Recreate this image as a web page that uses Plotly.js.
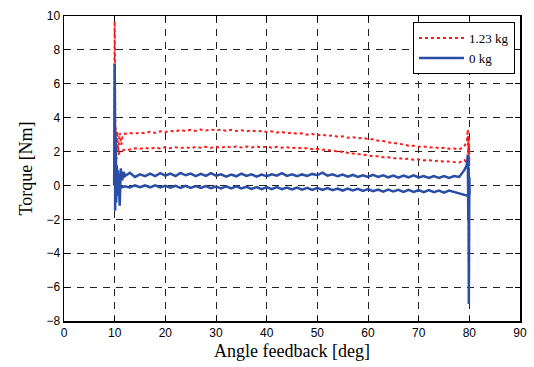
<!DOCTYPE html>
<html>
<head>
<meta charset="utf-8">
<script src="https://cdn.plot.ly/plotly-3.0.1.min.js"></script>
<style>html,body{margin:0;padding:0;background:#fff;}#chart{width:534px;height:367px;}</style>
</head>
<body>
<div id="chart"></div>
<script>
// 1.23 kg loop (upper branch forward, lower branch back)
var redX = [9.9,10.0,10.05,10.1,10.15,10.2,10.3,10.5,10.7,11.0,11.3,11.6,12,
13,14,15,16,17,18,19,20,21,22,23,24,25,26,27,28,29,30,31,32,33,34,35,36,37,38,39,40,41,42,43,44,45,46,47,48,49,50,51,52,53,54,55,56,57,58,59,60,61,62,63,64,65,66,67,68,69,70,71,72,73,74,75,76,77,78,79,
79.5,79.7,79.8,79.85,79.9,79.95,80.0,
79,78,77,76,75,74,73,72,71,70,69,68,67,66,65,64,63,62,61,60,59,58,57,56,55,54,53,52,51,50,49,48,47,46,45,44,43,42,41,40,39,38,37,36,35,34,33,32,31,30,29,28,27,26,25,24,23,22,21,20,19,18,17,16,15,14,13,12,11,10.5];
var redY = [1.0,9.7,8.0,4.0,1.5,3.4,1.8,3.2,2.0,3.1,2.4,3.0,3.05,
3.1,3.05,3.12,3.08,3.18,3.1,3.2,3.15,3.22,3.18,3.28,3.2,3.28,3.22,3.3,3.24,3.3,3.25,3.3,3.22,3.28,3.22,3.26,3.2,3.25,3.18,3.22,3.15,3.2,3.12,3.16,3.08,3.12,3.05,3.08,3.0,3.04,2.96,3.0,2.92,2.95,2.88,2.9,2.82,2.85,2.78,2.8,2.74,2.72,2.64,2.62,2.55,2.52,2.45,2.42,2.35,2.34,2.28,2.3,2.24,2.26,2.2,2.22,2.16,2.18,2.12,2.3,
2.6,3.3,1.5,2.9,-4.5,2.5,1.2,
1.5,1.35,1.38,1.42,1.4,1.46,1.44,1.5,1.48,1.54,1.52,1.58,1.56,1.62,1.6,1.66,1.66,1.72,1.72,1.78,1.8,1.86,1.88,1.94,1.96,2.02,2.04,2.1,2.1,2.16,2.14,2.2,2.18,2.24,2.2,2.26,2.22,2.28,2.22,2.3,2.24,2.3,2.24,2.3,2.24,2.3,2.24,2.3,2.22,2.28,2.22,2.28,2.22,2.28,2.2,2.26,2.2,2.26,2.2,2.26,2.18,2.24,2.16,2.22,2.16,2.2,2.12,2.1,2.0,1.6];

// 0 kg loop
var blueX = [9.9,10.0,10.05,10.1,10.15,10.2,10.25,10.3,10.4,10.5,10.6,10.8,11.0,11.2,11.5,11.8,
12,13,14,15,16,17,18,19,20,21,22,23,24,25,26,27,28,29,30,31,32,33,34,35,36,37,38,39,40,41,42,43,44,45,46,47,48,49,50,51,52,53,54,55,56,57,58,59,60,61,62,63,64,65,66,67,68,69,70,71,72,73,74,75,76,77,78,79,
79.5,79.7,79.8,79.85,79.9,79.95,80.0,80.05,
79.6,79,78,77,76,75,74,73,72,71,70,69,68,67,66,65,64,63,62,61,60,59,58,57,56,55,54,53,52,51,50,49,48,47,46,45,44,43,42,41,40,39,38,37,36,35,34,33,32,31,30,29,28,27,26,25,24,23,22,21,20,19,18,17,16,15,14,13,12,11,10.5];
var blueY = [0.0,7.2,5.0,-1.5,3.0,-1.2,1.8,-1.0,1.2,-0.6,0.9,0.2,-1.2,1.0,0.3,0.8,
0.55,0.75,0.5,0.65,0.55,0.7,0.55,0.72,0.58,0.7,0.56,0.74,0.6,0.7,0.55,0.68,0.56,0.72,0.58,0.66,0.52,0.64,0.54,0.7,0.56,0.66,0.52,0.64,0.55,0.66,0.58,0.72,0.56,0.66,0.55,0.65,0.56,0.68,0.6,0.76,0.58,0.66,0.54,0.64,0.52,0.62,0.5,0.6,0.5,0.62,0.5,0.6,0.48,0.58,0.46,0.58,0.48,0.6,0.47,0.56,0.45,0.56,0.45,0.55,0.45,0.55,0.5,0.9,
1.2,1.8,-2.0,1.0,-7.0,-4.0,0.5,-0.5,
-0.6,-0.55,-0.45,-0.4,-0.3,-0.42,-0.3,-0.4,-0.28,-0.4,-0.28,-0.38,-0.26,-0.38,-0.26,-0.36,-0.24,-0.36,-0.24,-0.34,-0.22,-0.32,-0.2,-0.3,-0.18,-0.3,-0.18,-0.28,-0.15,-0.26,-0.14,-0.26,-0.14,-0.25,-0.12,-0.24,-0.12,-0.22,-0.1,-0.22,-0.1,-0.22,-0.1,-0.2,-0.08,-0.18,-0.06,-0.18,-0.06,-0.18,-0.06,-0.16,-0.04,-0.15,-0.04,-0.14,-0.02,-0.14,-0.02,-0.13,-0.02,-0.12,0.0,-0.12,0.0,-0.1,0.0,-0.12,-0.05,-0.15,0.2];

var seriesNames = ['1.23 kg', '0 kg'];
var xTicks = [0,10,20,30,40,50,60,70,80,90];
var yTicks = [-8,-6,-4,-2,0,2,4,6,8,10];

var axisCommon = {
  showline: true, mirror: 'ticks', linecolor: '#000', linewidth: 1.5,
  ticks: 'inside', ticklen: 5, tickcolor: '#000', tickwidth: 1,
  showgrid: true, gridcolor: '#222', gridwidth: 1, griddash: '7px,6px',
  zeroline: false,
  tickfont: {family: 'Liberation Sans, Arial, sans-serif', size: 12, color: '#000'}
};

var data = [
  {x: redX, y: redY, name: seriesNames[0], type: 'scatter', mode: 'lines',
   line: {color: '#ff1a1a', width: 2, dash: 'dot'}},
  {x: blueX, y: blueY, name: seriesNames[1], type: 'scatter', mode: 'lines',
   line: {color: '#2a4ea6', width: 2.5}}
];

var layout = {
  width: 534, height: 367,
  margin: {l: 64, r: 14, t: 16, b: 46},
  paper_bgcolor: '#fff', plot_bgcolor: '#fff',
  showlegend: true,
  legend: {x: 0.989, xanchor: 'right', y: 0.98, yanchor: 'top',
    bgcolor: '#fff', bordercolor: '#000', borderwidth: 1,
    font: {family: 'Liberation Serif, Times New Roman, serif', size: 13, color: '#000'},
    itemwidth: 45, tracegroupgap: 0},
  xaxis: Object.assign({}, axisCommon, {
    range: [0, 90], tickmode: 'array', tickvals: xTicks,
    title: {text: 'Angle feedback [deg]', standoff: 5,
      font: {family: 'Liberation Serif, Times New Roman, serif', size: 18, color: '#000'}}
  }),
  yaxis: Object.assign({}, axisCommon, {
    range: [-8, 10], tickmode: 'array', tickvals: yTicks,
    title: {text: 'Torque [Nm]', standoff: 9,
      font: {family: 'Liberation Serif, Times New Roman, serif', size: 18, color: '#000'}}
  })
};

Plotly.newPlot('chart', data, layout, {staticPlot: true, displayModeBar: false});
</script>
</body>
</html>
